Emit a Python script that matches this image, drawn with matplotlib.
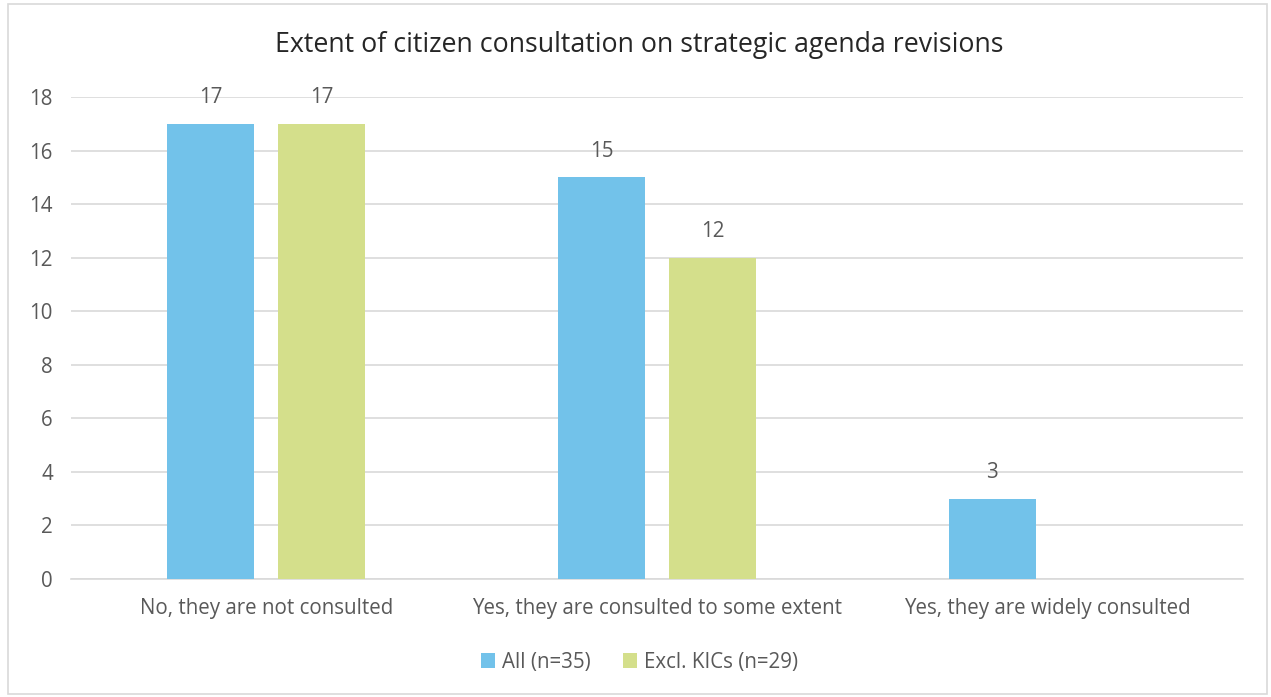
import matplotlib
matplotlib.use("Agg")
import matplotlib.pyplot as plt
import numpy as np
from matplotlib.patches import Rectangle

categories = ["No, they are not consulted",
              "Yes, they are consulted to some extent",
              "Yes, they are widely consulted"]
all_counts = [17, 15, 3]
excl_kics = [17, 12, None]
series_names = ["All (n=35)", "Excl. KICs (n=29)"]
yticks = list(range(0, 19, 2))

BLUE = "#72C2EA"
GREEN = "#D4DF8B"
GREY = "#595959"
FS = 14.8

plt.rcParams["font.family"] = ["Open Sans", "DejaVu Sans"]

fig = plt.figure(figsize=(12.71, 6.97), dpi=100)
ax = fig.add_axes([0.0559, 0.1693, 0.9222, 0.6915])

# frame round the whole chart
fig.patches.append(Rectangle((0.006, 0.005), 0.991, 0.989, transform=fig.transFigure,
                             fill=False, edgecolor="#D9D9D9", lw=1.2))

x = np.arange(len(categories))
w, off = 0.223, 0.142
for vals, dx, col, name in [(all_counts, -off, BLUE, series_names[0]),
                            (excl_kics, off, GREEN, series_names[1])]:
    xs = [xi + dx for xi, v in zip(x, vals) if v is not None]
    vs = [v for v in vals if v is not None]
    ax.bar(xs, vs, width=w, color=col, label=name, zorder=3)
    for xi, v in zip(xs, vs):
        ax.annotate(f"{v}", (xi, v), xytext=(0, 26), textcoords="offset pixels",
                    ha="center", va="center", fontsize=FS, color=GREY)

ax.set_xlim(-0.5, 2.5)
ax.set_ylim(0, 18)
ax.set_yticks(yticks)
ax.set_yticklabels([str(t) for t in yticks], fontsize=FS, color=GREY)
ax.set_xticks(x)
ax.set_xticklabels(categories, fontsize=FS, color=GREY)
ax.tick_params(axis="both", length=0)
ax.tick_params(axis="y", pad=13)
ax.tick_params(axis="x", pad=14)
ax.grid(axis="y", color="#D9D9D9", lw=1.2, zorder=0)
for s in ["top", "right", "left"]:
    ax.spines[s].set_visible(False)
ax.spines["bottom"].set_color("#D9D9D9")
ax.spines["bottom"].set_linewidth(1.2)

fig.text(0.503, 0.935, "Extent of citizen consultation on strategic agenda revisions",
         ha="center", va="center", fontsize=19.3, color="#262626")

fig.legend(loc="center", bbox_to_anchor=(0.503, 0.05), ncol=2, frameon=False,
           fontsize=FS, labelcolor=GREY, handlelength=0.7, handleheight=0.7,
           handletextpad=0.3, columnspacing=1.6)

fig.savefig("out.png", dpi=100)
